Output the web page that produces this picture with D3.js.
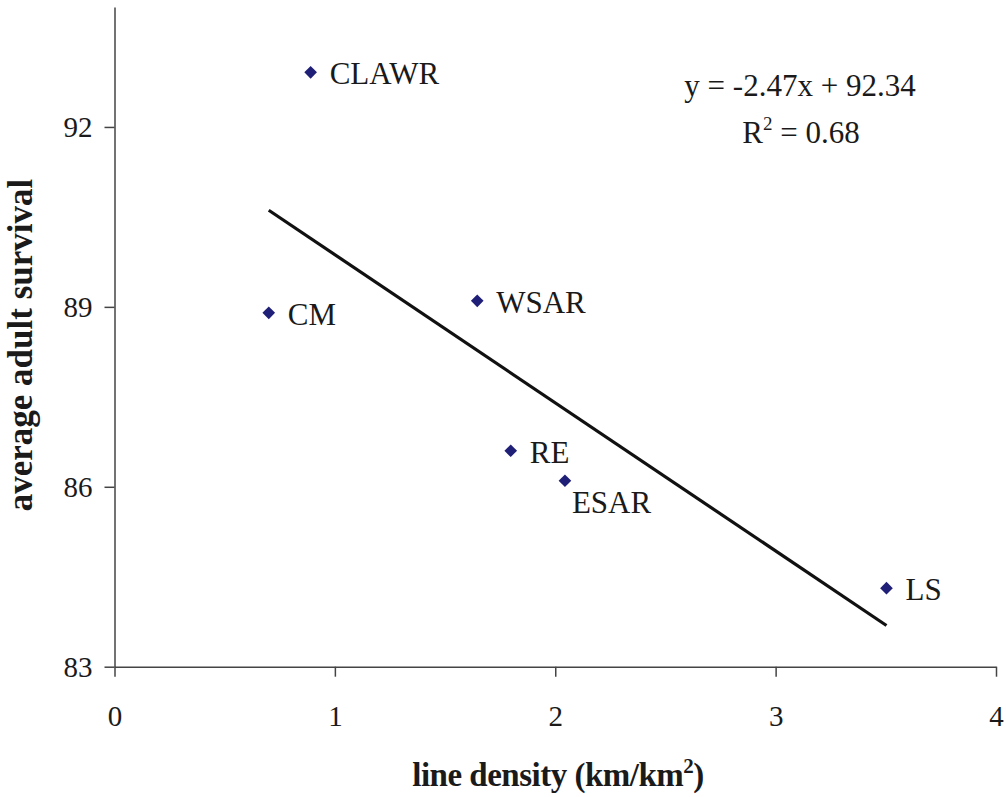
<!DOCTYPE html>
<html>
<head>
<meta charset="utf-8">
<script src="https://cdn.jsdelivr.net/npm/d3@7"></script>
<style>
  body { margin: 0; background: #fff; }
  svg text { font-family: "Liberation Serif", "Times New Roman", "DejaVu Serif", serif !important; fill: #1a1a1a; }
</style>
</head>
<body>
<svg id="chart" width="1006" height="797"></svg>
<script>
// site names, line density (km/km2) and average adult survival
const sites = ["CLAWR", "CM", "WSAR", "RE", "ESAR", "LS"]
const density = [0.89, 0.70, 1.646, 1.798, 2.044, 3.503]
const survival = [92.91, 88.90, 89.10, 86.60, 86.10, 84.31]
const xTicks = [0, 1, 2, 3, 4]
const yTicks = [83, 86, 89, 92]
const slope = -2.47
const intercept = 92.34

const serif = '"Liberation Serif", "Times New Roman", "DejaVu Serif", serif'
const svg = d3.select("#chart")

let x = d3.scaleLinear().domain([0, 4]).range([114.5, 996])
let y = d3.scaleLinear().domain([83, 94]).range([666.7, 7])

// axes
let xAxis = d3.axisBottom(x).tickValues(xTicks).tickFormat(d3.format("d"))
  .tickSize(10).tickSizeOuter(0).tickPadding(29)
let gx = svg.append("g")
  .attr("transform", `translate(0, ${y(83)})`)
  .call(xAxis)

let yAxis = d3.axisLeft(y).tickValues(yTicks).tickFormat(d3.format("d"))
  .tickSize(10).tickSizeOuter(0).tickPadding(12)
let gy = svg.append("g")
  .attr("transform", `translate(${x(0)}, 0)`)
  .call(yAxis)

svg.selectAll("g").attr("font-family", serif)
svg.selectAll(".domain, .tick line").attr("stroke", "#444").attr("stroke-width", 1.5)
svg.selectAll(".tick text").style("font-size", "29px").attr("fill", "#1a1a1a")
gy.selectAll(".tick text").attr("dy", "0.34em")

// trend line over the range of the data
let xs = d3.extent(density)
svg.append("line")
  .attr("x1", x(xs[0])).attr("y1", y(slope * xs[0] + intercept))
  .attr("x2", x(xs[1])).attr("y2", y(slope * xs[1] + intercept))
  .attr("stroke", "#111").attr("stroke-width", 3.2)

// points
let data = sites.map((s, i) => ({ name: s, x: density[i], y: survival[i] }))
let diamond = d3.symbol().type(d3.symbolSquare).size(80)
svg.selectAll(".pt")
  .data(data)
  .enter()
  .append("path")
  .attr("d", diamond)
  .attr("fill", "#1f1f78")
  .attr("transform", d => `translate(${x(d.x)}, ${y(d.y)}) rotate(45)`)

svg.selectAll(".lbl")
  .data(data)
  .enter()
  .append("text")
  .attr("x", d => x(d.x) + (d.name === "ESAR" ? 7 : 19))
  .attr("y", d => y(d.y) + (d.name === "ESAR" ? 32 : 12))
  .attr("font-family", serif)
  .style("font-size", "31px")
  .text(d => d.name)

// regression equation
let eq = svg.append("g").attr("font-family", serif).style("font-size", "31px")
eq.append("text").attr("x", 800).attr("y", 96).attr("text-anchor", "middle")
  .text(`y = ${slope}x + ${intercept}`)
let r2 = eq.append("text").attr("x", 801).attr("y", 143).attr("text-anchor", "middle")
r2.append("tspan").text("R")
r2.append("tspan").attr("dy", -13).style("font-size", "19px").text("2")
r2.append("tspan").attr("dy", 13).text(" = 0.68")

// axis titles
let xt = svg.append("text")
  .attr("x", 558).attr("y", 786)
  .attr("text-anchor", "middle")
  .attr("font-family", serif)
  .style("font-size", "33px").style("font-weight", "bold")
  .style("letter-spacing", "-0.5px")
xt.append("tspan").text("line density (km/km")
xt.append("tspan").attr("dy", -13).style("font-size", "21px").text("2")
xt.append("tspan").attr("dy", 13).text(")")

svg.append("text")
  .attr("transform", "translate(32, 345) rotate(-90)")
  .attr("text-anchor", "middle")
  .attr("font-family", serif)
  .style("font-size", "35px").style("font-weight", "bold")
  .text("average adult survival")
</script>
</body>
</html>
